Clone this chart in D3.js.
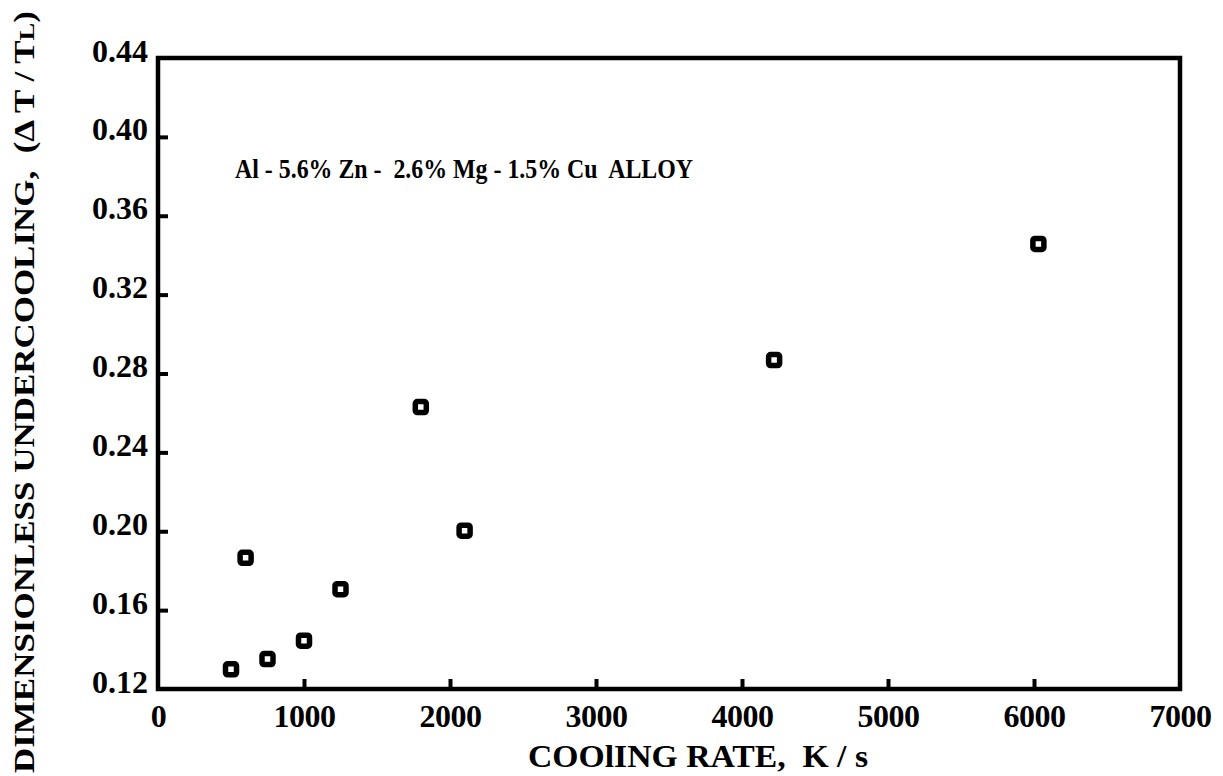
<!DOCTYPE html>
<html><head><meta charset="utf-8">
<script src="https://cdn.jsdelivr.net/npm/d3@7"></script>
<style>body{margin:0;background:#fff}svg{display:block}</style>
</head><body>
<svg id="c" width="1223" height="776"></svg>
<script>
const coolingRate = [500, 600, 750, 1000, 1250, 1800, 2100, 4220, 6030];
const undercooling = [0.130, 0.1865, 0.1352, 0.1445, 0.1706, 0.2630, 0.2003, 0.2868, 0.3457];
const xTicks = [0, 1000, 2000, 3000, 4000, 5000, 6000, 7000];
const yTicks = [0.12, 0.16, 0.20, 0.24, 0.28, 0.32, 0.36, 0.40, 0.44];
const alloyLabel = "Al - 5.6% Zn -  2.6% Mg - 1.5% Cu  ALLOY";
const xTitle = "COOlING RATE,  K / s";

const svg = d3.select("#c");
const L = 158, R = 1180, T = 58, B = 689;
const x = d3.scaleLinear().domain([0, 7000]).range([L, R]);
const y = d3.scaleLinear().domain([0.12, 0.44]).range([B, T]);
const font = "'Liberation Serif', 'Times New Roman', serif";

// frame
svg.append("rect").attr("x", L).attr("y", T).attr("width", R - L).attr("height", B - T)
  .attr("fill", "none").attr("stroke", "#000").attr("stroke-width", 4.5);

// x axis ticks (inward) and labels
const xAxis = d3.axisBottom(x).tickValues(xTicks).tickSize(-10).tickFormat(d3.format("d"));
const gx = svg.append("g").attr("transform", `translate(0,${B})`).call(xAxis);
gx.select(".domain").remove();
gx.selectAll(".tick line").attr("stroke-width", 4)
  .attr("opacity", d => (d === 0 || d === 7000) ? 0 : 1);
gx.selectAll(".tick text").attr("font-family", font).attr("font-weight", "bold")
  .attr("font-size", 32).attr("fill", "#000").attr("dy", 0).attr("y", 38)
  .attr("letter-spacing", -0.5);

// y axis ticks (inward) and labels
const yAxis = d3.axisLeft(y).tickValues(yTicks).tickSize(-10).tickFormat(d3.format(".2f"));
const gy = svg.append("g").attr("transform", `translate(${L},0)`).call(yAxis);
gy.select(".domain").remove();
gy.selectAll(".tick line").attr("stroke-width", 4)
  .attr("opacity", d => (Math.abs(d - 0.12) < 1e-9 || Math.abs(d - 0.44) < 1e-9) ? 0 : 1);
gy.selectAll(".tick text").attr("font-family", font).attr("font-weight", "bold")
  .attr("font-size", 31).attr("fill", "#000").attr("x", -10).attr("dy", 0).attr("y", 3)
  .attr("textLength", 56).attr("lengthAdjust", "spacingAndGlyphs");

// points
svg.append("g").selectAll("rect").data(coolingRate.map((d, i) => [d, undercooling[i]]))
  .join("rect")
  .attr("x", d => x(d[0]) - 5.5).attr("y", d => y(d[1]) - 5.5)
  .attr("width", 11).attr("height", 11).attr("rx", 2)
  .attr("fill", "#fff").attr("stroke", "#000").attr("stroke-width", 5.5);

// annotation
svg.append("text").attr("x", 235).attr("y", 178)
  .attr("font-family", font).attr("font-weight", "bold").attr("font-size", 27)
  .attr("textLength", 458).attr("lengthAdjust", "spacingAndGlyphs")
  .style("white-space", "pre").text(alloyLabel);

// x title
svg.append("text").attr("x", 528).attr("y", 767)
  .attr("font-family", font).attr("font-weight", "bold").attr("font-size", 31)
  .attr("textLength", 340).attr("lengthAdjust", "spacingAndGlyphs")
  .style("white-space", "pre").text(xTitle);

// y title
const yt = svg.append("text").attr("transform", "translate(34,773) rotate(-90)")
  .attr("font-family", font).attr("font-weight", "bold").attr("font-size", 29)
  .attr("textLength", 762).attr("lengthAdjust", "spacingAndGlyphs")
  .style("white-space", "pre");
yt.append("tspan").text("DIMENSIONLESS UNDERCOOLING,  (Δ T / T");
yt.append("tspan").attr("font-size", 22).text("L");
yt.append("tspan").text(")");
</script>
</body></html>
